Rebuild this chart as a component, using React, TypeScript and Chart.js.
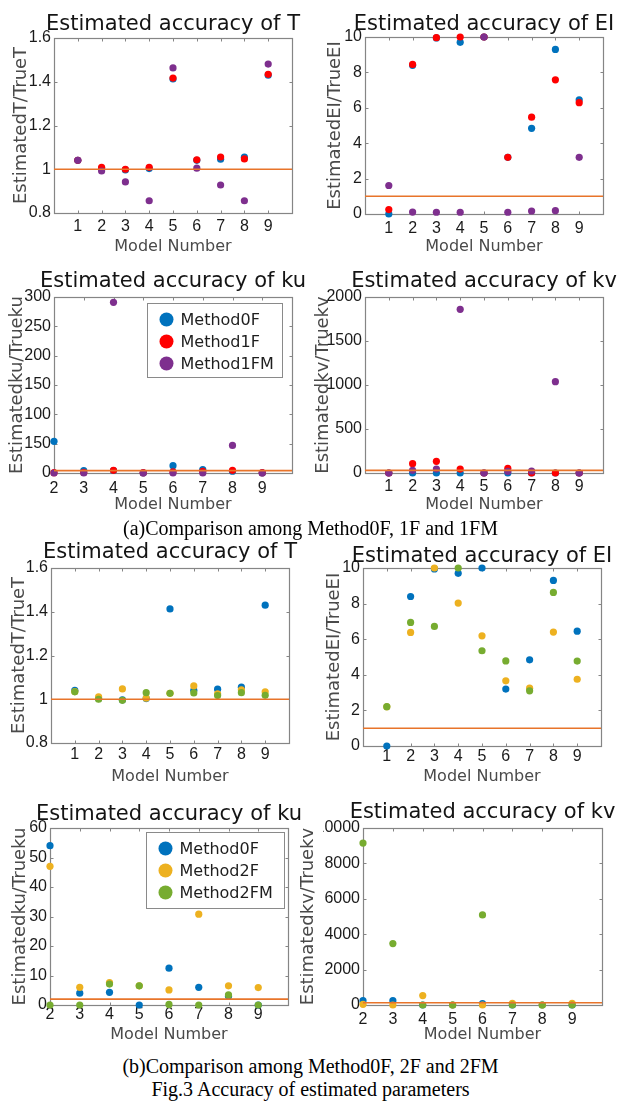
import React, { useEffect, useRef } from "react";
import { Chart, registerables } from "chart.js";

Chart.register(...registerables);

const SANS = "'DejaVu Sans', 'Liberation Sans', sans-serif";
const TICK_FAMILY = "'Liberation Sans', Arial, sans-serif";
const SERIF = "'Liberation Serif', 'Times New Roman', serif";

const COLOR_0F = "#0072BD";
const COLOR_1F = "#FF0000";
const COLOR_1FM = "#7E2F8E";
const COLOR_2F = "#EDB120";
const COLOR_2FM = "#77AC30";
const COLOR_REF = "#E8742A";

// ---------- data ----------
const MODELS_ALL = [1, 2, 3, 4, 5, 6, 7, 8, 9];
const MODELS_FROM_2 = [2, 3, 4, 5, 6, 7, 8, 9];

// Estimated T / True T
const T_METHOD0F = [1.041, 1.003, 0.997, 1.003, 1.413, 1.041, 1.046, 1.055, 1.43];
const T_METHOD1F = [1.041, 1.009, 1.0, 1.009, 1.417, 1.043, 1.056, 1.047, 1.434];
const T_METHOD1FM = [1.041, 0.992, 0.942, 0.856, 1.463, 1.005, 0.928, 0.856, 1.481];
const T_METHOD2F = [1.035, 1.011, 1.047, 1.005, 1.027, 1.061, 1.025, 1.043, 1.034];
const T_METHOD2FM = [1.034, 1.0, 0.995, 1.03, 1.027, 1.029, 1.017, 1.03, 1.018];

// Estimated EI / True EI
const EI_METHOD0F = [0, 8.4, 9.95, 9.7, 10.0, 3.2, 4.84, 9.3, 6.45];
const EI_METHOD1F = [0.25, 8.45, 9.96, 10.0, 10.0, 3.2, 5.47, 7.58, 6.29];
const EI_METHOD1FM = [1.61, 0.11, 0.1, 0.1, 10.0, 0.1, 0.17, 0.19, 3.2];
const EI_METHOD2F = [2.2, 6.38, 10.0, 8.03, 6.19, 3.66, 3.25, 6.4, 3.75];
const EI_METHOD2FM = [2.21, 6.94, 6.72, 10.0, 5.35, 4.78, 3.1, 8.63, 4.77];

// Estimated ku / True ku (models 2-9)
const KU_METHOD0F = [54, 4, 4.3, 0, 12.5, 6, 3, 0];
const KU_METHOD1F = [0.5, 1, 4.5, 0.5, 2, 3, 4.5, 0.5];
const KU_METHOD1FM = [0, 0, 291, 0, 0, 0, 47, 0];
const KU_METHOD2F = [47, 6.0, 7.6, 6.5, 5.1, 30.8, 6.5, 5.9];
const KU_METHOD2FM = [0, 0, 7.1, 6.5, 0.2, 0, 3.4, 0];

// Estimated kv / True kv
const KV_A_METHOD0F = [0, 0, 0, 0, 0, 0, 0, 0, 0];
const KV_A_METHOD1F = [0, 106, 133, 45, 0, 53, 0, 0, 0];
const KV_A_METHOD1FM = [0, 30, 45, 1860, 0, 19, 23, 1038, 0];
const KV_B_METHOD0F = [245, 245, 0, 0, 75, 0, 0, 0];
const KV_B_METHOD2F = [38, 0, 530, 0, 0, 95, 0, 90];
const KV_B_METHOD2FM = [9150, 3470, 0, 0, 5090, 0, 0, 0];

// reference (ratio = 1) line as drawn
const REF_T = 1;
const REF_EI = 1;
const REF_KU_A = 4;
const REF_KV_A = 30;
const REF_KU_B = 2;
const REF_KV_B = 130;

// tick values / labels
const X_TICKS_ALL = [1, 2, 3, 4, 5, 6, 7, 8, 9];
const X_TICKS_FROM_2 = [2, 3, 4, 5, 6, 7, 8, 9];
const Y_TICKS_T = [0.8, 1, 1.2, 1.4, 1.6];
const Y_LABELS_T = ["0.8", "1", "1.2", "1.4", "1.6"];
const Y_TICKS_EI = [0, 2, 4, 6, 8, 10];
const Y_LABELS_EI = ["0", "2", "4", "6", "8", "10"];
const Y_TICKS_KU_A = [0, 50, 100, 150, 200, 250, 300];
const Y_LABELS_KU_A = ["0", "150", "100", "150", "200", "250", "300"];
const Y_TICKS_KV_A = [0, 500, 1000, 1500, 2000];
const Y_LABELS_KV_A = ["0", "500", "1000", "1500", "2000"];
const Y_TICKS_KU_B = [0, 10, 20, 30, 40, 50, 60];
const Y_LABELS_KU_B = ["0", "10", "20", "30", "40", "50", "60"];
const Y_TICKS_KV_B = [0, 2000, 4000, 6000, 8000, 10000];
const Y_LABELS_KV_B = ["0", "2000", "4000", "6000", "8000", "10000"];

type Series = { label: string; color: string; xs: number[]; ys: (number | null)[] };
type Area = { l: number; t: number; r: number; b: number };
type PanelSpec = {
  col: number;
  area: Area;
  title: string;
  yLabel: string;
  xMin: number;
  xMax: number;
  xTicks: number[];
  yMin: number;
  yMax: number;
  yTicks: number[];
  yTickLabels: string[];
  ref: number;
  series: Series[];
  titleDy: number;
  yLabelDx: number;
  xTickPad: number;
  xLabelDy: number;
  legend?: { dx: number; dy: number; w: number; h: number };
};

const seriesA = (xs: number[], a: (number | null)[], b: (number | null)[], c: (number | null)[]): Series[] => [
  { label: "Method0F", color: COLOR_0F, xs, ys: a },
  { label: "Method1F", color: COLOR_1F, xs, ys: b },
  { label: "Method1FM", color: COLOR_1FM, xs, ys: c },
];
const seriesB = (xs: number[], a: (number | null)[], b: (number | null)[], c: (number | null)[]): Series[] => [
  { label: "Method0F", color: COLOR_0F, xs, ys: a },
  { label: "Method2F", color: COLOR_2F, xs, ys: b },
  { label: "Method2FM", color: COLOR_2FM, xs, ys: c },
];

const PANELS: PanelSpec[] = [
  {
    col: 0, area: { l: 54, t: 38, r: 292, b: 213 }, title: "Estimated accuracy of T", yLabel: "EstimatedT/TrueT",
    xMin: 0, xMax: 10, xTicks: X_TICKS_ALL, yMin: 0.8, yMax: 1.6, yTicks: Y_TICKS_T, yTickLabels: Y_LABELS_T, ref: REF_T,
    series: seriesA(MODELS_ALL, T_METHOD0F, T_METHOD1F, T_METHOD1FM),
    titleDy: -8, yLabelDx: -33, xTickPad: 4, xLabelDy: 34,
  },
  {
    col: 300, area: { l: 365, t: 37, r: 603, b: 214 }, title: "Estimated accuracy of EI", yLabel: "EstimatedEI/TrueEI",
    xMin: 0, xMax: 10, xTicks: X_TICKS_ALL, yMin: 0, yMax: 10, yTicks: Y_TICKS_EI, yTickLabels: Y_LABELS_EI, ref: REF_EI,
    series: seriesA(MODELS_ALL, EI_METHOD0F, EI_METHOD1F, EI_METHOD1FM),
    titleDy: -7, yLabelDx: -29.5, xTickPad: 5, xLabelDy: 33,
  },
  {
    col: 0, area: { l: 54, t: 297, r: 292, b: 473 }, title: "Estimated accuracy of ku", yLabel: "Estimatedku/Trueku",
    xMin: 2, xMax: 10, xTicks: X_TICKS_FROM_2, yMin: 0, yMax: 300, yTicks: Y_TICKS_KU_A, yTickLabels: Y_LABELS_KU_A, ref: REF_KU_A,
    series: seriesA(MODELS_FROM_2, KU_METHOD0F, KU_METHOD1F, KU_METHOD1FM),
    titleDy: -10, yLabelDx: -36.5, xTickPad: 6, xLabelDy: 32,
    legend: { dx: 93, dy: 6, w: 135, h: 74 },
  },
  {
    col: 300, area: { l: 365, t: 297, r: 603, b: 473 }, title: "Estimated accuracy of kv", yLabel: "Estimatedkv/Truekv",
    xMin: 0, xMax: 10, xTicks: X_TICKS_ALL, yMin: 0, yMax: 2000, yTicks: Y_TICKS_KV_A, yTickLabels: Y_LABELS_KV_A, ref: REF_KV_A,
    series: seriesA(MODELS_ALL, KV_A_METHOD0F, KV_A_METHOD1F, KV_A_METHOD1FM),
    titleDy: -10, yLabelDx: -42, xTickPad: 4, xLabelDy: 32,
  },
  {
    col: 0, area: { l: 51, t: 568, r: 289, b: 743 }, title: "Estimated accuracy of T", yLabel: "EstimatedT/TrueT",
    xMin: 0, xMax: 10, xTicks: X_TICKS_ALL, yMin: 0.8, yMax: 1.6, yTicks: Y_TICKS_T, yTickLabels: Y_LABELS_T, ref: REF_T,
    series: seriesB(MODELS_ALL, T_METHOD0F, T_METHOD2F, T_METHOD2FM),
    titleDy: -10, yLabelDx: -31.5, xTickPad: 2, xLabelDy: 34,
  },
  {
    col: 300, area: { l: 363, t: 568, r: 601, b: 746 }, title: "Estimated accuracy of EI", yLabel: "EstimatedEI/TrueEI",
    xMin: 0, xMax: 10, xTicks: X_TICKS_ALL, yMin: 0, yMax: 10, yTicks: Y_TICKS_EI, yTickLabels: Y_LABELS_EI, ref: REF_EI,
    series: seriesB(MODELS_ALL, EI_METHOD0F, EI_METHOD2F, EI_METHOD2FM),
    titleDy: -6, yLabelDx: -28.5, xTickPad: 1, xLabelDy: 31,
  },
  {
    col: 0, area: { l: 50, t: 828, r: 288, b: 1005 }, title: "Estimated accuracy of ku", yLabel: "Estimatedku/Trueku",
    xMin: 2, xMax: 10, xTicks: X_TICKS_FROM_2, yMin: 0, yMax: 60, yTicks: Y_TICKS_KU_B, yTickLabels: Y_LABELS_KU_B, ref: REF_KU_B,
    series: seriesB(MODELS_FROM_2, KU_METHOD0F, KU_METHOD2F, KU_METHOD2FM),
    titleDy: -8, yLabelDx: -29.5, xTickPad: 0, xLabelDy: 30,
    legend: { dx: 96, dy: 4, w: 138, h: 76 },
  },
  {
    col: 300, area: { l: 363, t: 828, r: 602, b: 1005 }, title: "Estimated accuracy of kv", yLabel: "Estimatedkv/Truekv",
    xMin: 2, xMax: 10, xTicks: X_TICKS_FROM_2, yMin: 0, yMax: 10000, yTicks: Y_TICKS_KV_B, yTickLabels: Y_LABELS_KV_B, ref: REF_KV_B,
    series: seriesB(MODELS_FROM_2, KV_B_METHOD0F, KV_B_METHOD2F, KV_B_METHOD2FM),
    titleDy: -10, yLabelDx: -55, xTickPad: 5, xLabelDy: 30,
  },
];

const Y_W = 40;
const X_H = 24;
const TOP_MARGIN = 40;
const BOTTOM_MARGIN = 46;

const decorPlugin = {
  id: "panelDecor",
  beforeDraw(chart: any, _args: any, opts: any) {
    const { ctx, chartArea: a } = chart;
    if (!a) return;
    const cy = (a.top + a.bottom) / 2;
    ctx.save();
    ctx.fillStyle = "#4a4a4a";
    ctx.textAlign = "center";
    ctx.textBaseline = "middle";
    ctx.translate(a.left + opts.yLabelDx, cy);
    ctx.rotate(-Math.PI / 2);
    ctx.font = `18px ${SANS}`;
    ctx.fillText(opts.yLabel, 0, 0);
    ctx.restore();
  },
  beforeDatasetsDraw(chart: any, _args: any, opts: any) {
    const { ctx, chartArea: a, scales } = chart;
    ctx.save();
    ctx.strokeStyle = "#858585";
    ctx.lineWidth = 1.2;
    const l = Math.round(a.left) + 0.5;
    const t = Math.round(a.top) + 0.5;
    const r = Math.round(a.right) + 0.5;
    const b = Math.round(a.bottom) + 0.5;
    ctx.strokeRect(l, t, r - l, b - t);
    ctx.beginPath();
    ctx.lineWidth = 1;
    for (const v of opts.xTicks) {
      const px = Math.round(scales.x.getPixelForValue(v)) + 0.5;
      ctx.moveTo(px, b);
      ctx.lineTo(px, b - 3);
      ctx.moveTo(px, t);
      ctx.lineTo(px, t + 3);
    }
    for (const v of opts.yTicks) {
      const py = Math.round(scales.y.getPixelForValue(v)) + 0.5;
      ctx.moveTo(l, py);
      ctx.lineTo(l + 3, py);
      ctx.moveTo(r, py);
      ctx.lineTo(r - 3, py);
    }
    ctx.stroke();
    ctx.restore();
  },
  afterDraw(chart: any, _args: any, opts: any) {
    const { ctx, chartArea: a } = chart;
    const cx = (a.left + a.right) / 2;
    ctx.save();
    // title
    ctx.fillStyle = "#141414";
    ctx.font = `21px ${SANS}`;
    ctx.textAlign = "center";
    ctx.textBaseline = "alphabetic";
    ctx.fillText(opts.title, cx, a.top + opts.titleDy);
    // x label
    ctx.fillStyle = "#4a4a4a";
    ctx.font = `16px ${SANS}`;
    ctx.textBaseline = "middle";
    ctx.fillText("Model Number", cx, a.bottom + opts.xLabelDy);
    // legend
    if (opts.legend) {
      const lg = opts.legend;
      const bx = Math.round(a.left + lg.dx) + 0.5;
      const by = Math.round(a.top + lg.dy) + 0.5;
      ctx.fillStyle = "#ffffff";
      ctx.fillRect(bx, by, lg.w, lg.h);
      ctx.strokeStyle = "#8a8a8a";
      ctx.lineWidth = 1;
      ctx.strokeRect(bx, by, lg.w, lg.h);
      const items = chart.data.datasets.filter((d: any) => d.type === "scatter");
      items.forEach((d: any, i: number) => {
        const yy = by + 16 + i * 22;
        ctx.beginPath();
        ctx.fillStyle = d.backgroundColor;
        ctx.arc(bx + 19, yy, 7, 0, Math.PI * 2);
        ctx.fill();
        ctx.fillStyle = "#1e1e1e";
        ctx.font = `16px ${SANS}`;
        ctx.textAlign = "left";
        ctx.textBaseline = "middle";
        ctx.fillText(d.label, bx + 33, yy + 1);
      });
    }
    ctx.restore();
  },
};

function Panel({ spec }: { spec: PanelSpec }) {
  const ref = useRef<HTMLCanvasElement | null>(null);
  const w = spec.col === 0 ? 310 : 321;
  const h = spec.area.b - spec.area.t + TOP_MARGIN + BOTTOM_MARGIN;
  const canvasTop = spec.area.t - TOP_MARGIN;
  const ar = {
    l: spec.area.l - spec.col,
    t: TOP_MARGIN,
    r: spec.area.r - spec.col,
    b: TOP_MARGIN + (spec.area.b - spec.area.t),
  };

  useEffect(() => {
    if (!ref.current) return;
    const datasets: any[] = [
      {
        type: "line",
        label: "ref",
        data: [
          { x: spec.xMin, y: spec.ref },
          { x: spec.xMax, y: spec.ref },
        ],
        borderColor: COLOR_REF,
        backgroundColor: COLOR_REF,
        borderWidth: 1.6,
        pointRadius: 0,
        fill: false,
        order: 0,
        clip: false,
      },
    ];
    spec.series.forEach((s, i) => {
      datasets.push({
        type: "scatter",
        label: s.label,
        data: s.xs
          .map((x, j) => ({ x, y: s.ys[j] }))
          .filter((d) => d.y !== null && d.y !== undefined),
        backgroundColor: s.color,
        borderColor: s.color,
        borderWidth: 0,
        pointRadius: 3.6,
        pointHoverRadius: 3.6,
        order: 1 + (spec.series.length - 1 - i),
        clip: false,
      });
    });

    const tickFont = { family: TICK_FAMILY, size: 16 };
    const chart = new Chart(ref.current, {
      type: "scatter",
      data: { datasets },
      options: {
        responsive: false,
        maintainAspectRatio: false,
        animation: false,
        events: [],
        layout: {
          padding: {
            left: ar.l - Y_W,
            top: ar.t,
            right: w - ar.r,
            bottom: h - ar.b - X_H,
          },
        },
        scales: {
          x: {
            type: "linear",
            min: spec.xMin,
            max: spec.xMax,
            afterBuildTicks: (axis: any) => {
              axis.ticks = spec.xTicks.map((v) => ({ value: v }));
            },
            afterFit: (axis: any) => {
              axis.height = X_H;
            },
            grid: { display: false, drawTicks: false },
            border: { display: false },
            ticks: {
              padding: spec.xTickPad,
              font: tickFont,
              color: "#1a1a1a",
              autoSkip: false,
              maxRotation: 0,
              minRotation: 0,
              callback: (v: any) => String(v),
            },
          },
          y: {
            type: "linear",
            min: spec.yMin,
            max: spec.yMax,
            afterBuildTicks: (axis: any) => {
              axis.ticks = spec.yTicks.map((v) => ({ value: v }));
            },
            afterFit: (axis: any) => {
              axis.width = Y_W;
            },
            grid: { display: false, drawTicks: false },
            border: { display: false },
            ticks: {
              padding: 3,
              font: tickFont,
              color: "#1a1a1a",
              autoSkip: false,
              callback: (_v: any, i: number) => spec.yTickLabels[i],
            },
          },
        },
        plugins: {
          legend: { display: false },
          tooltip: { enabled: false },
          title: { display: false },
          panelDecor: {
            title: spec.title,
            yLabel: spec.yLabel,
            titleDy: spec.titleDy,
            yLabelDx: spec.yLabelDx,
            xLabelDy: spec.xLabelDy,
            xTicks: spec.xTicks,
            yTicks: spec.yTicks,
            legend: spec.legend,
          },
        } as any,
      },
      plugins: [decorPlugin as any],
    } as any);
    return () => chart.destroy();
  }, []);

  return (
    <canvas
      ref={ref}
      width={w}
      height={h}
      style={{ position: "absolute", left: spec.col, top: canvasTop, width: w, height: h, display: "block" }}
    />
  );
}

const captionStyle = (top: number): React.CSSProperties => ({
  position: "absolute",
  left: 0,
  top,
  width: 621,
  textAlign: "center",
  fontFamily: SERIF,
  fontSize: 20,
  lineHeight: "20px",
  color: "#000",
  whiteSpace: "nowrap",
});

export default function App() {
  return (
    <div style={{ position: "absolute", left: 0, top: 0, width: 621, height: 1103, background: "#fff", overflow: "hidden" }}>
      {PANELS.map((p, i) => (
        <Panel key={i} spec={p} />
      ))}
      <div style={captionStyle(518)}>(a)Comparison among Method0F, 1F and 1FM</div>
      <div style={captionStyle(1056)}>(b)Comparison among Method0F, 2F and 2FM</div>
      <div style={captionStyle(1079)}>Fig.3 Accuracy of estimated parameters</div>
    </div>
  );
}
